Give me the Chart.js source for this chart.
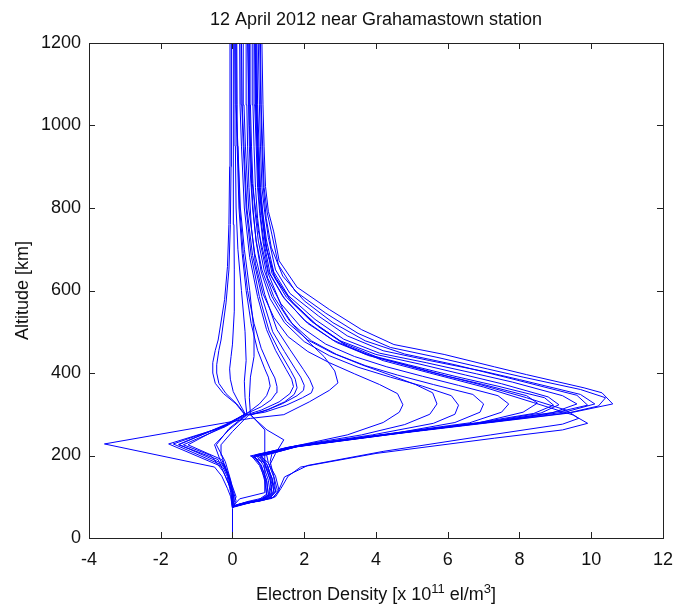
<!DOCTYPE html>
<html>
<head>
<meta charset="utf-8">
<script src="https://cdn.jsdelivr.net/npm/chart.js@4/dist/chart.umd.min.js"></script>
<style>
  body { margin: 0; background: #fff; }
  #wrap { width: 684px; height: 608px; }
</style>
</head>
<body>
<div id="wrap"><canvas id="profileChart" width="684" height="608"></canvas></div>
<script>
// Electron density profiles, each point is [density (x1e11 el/m3), altitude (km)]

// daytime profiles, big F2 peak
const dayProfiles = [
  [[0,75],[0.4,84],[1.0,95],[1.2,112],[1.1,145],[0.9,180],[0.8,198],[1.8,222],[4.5,253],[7.3,282],[9.5,305],[10.6,325],[10.3,352],[9.8,364],[8.2,396],[7.3,415],[5.9,445],[4.5,469],[3.6,505],[2.7,554],[1.8,608],[1.3,672],[1.15,742],[1.0,792],[0.92,852],[0.88,950],[0.85,1050],[0.82,1200]],
  [[0,78],[0.3,85],[0.9,93],[1.1,110],[1.05,140],[0.9,178],[0.75,200],[1.7,220],[4.4,251],[7.2,280],[9.3,302],[10.2,320],[10.4,340],[9.7,360],[8.1,390],[7.1,410],[5.7,438],[4.4,462],[3.5,496],[2.6,545],[1.75,598],[1.28,662],[1.1,735],[0.97,788],[0.88,850],[0.84,950],[0.8,1050],[0.78,1200]],
  [[0,76],[0.5,86],[1.1,96],[1.3,115],[1.2,150],[1.0,182],[0.95,202],[1.9,224],[4.6,254],[7.4,283],[9.3,306],[10.1,325],[9.7,348],[8.0,384],[7.0,404],[5.5,430],[4.2,454],[3.2,490],[2.4,538],[1.6,593],[1.2,650],[1.0,728],[0.9,788],[0.82,850],[0.78,950],[0.75,1050],[0.72,1200]],
  [[0,75],[0.2,82],[0.8,90],[1.0,105],[0.95,140],[0.8,175],[0.6,196],[1.7,221],[4.4,252],[7.1,281],[8.9,303],[9.6,325],[9.2,345],[7.8,378],[6.8,398],[5.4,425],[4.1,448],[3.1,482],[2.3,530],[1.55,588],[1.15,645],[0.95,720],[0.85,785],[0.78,850],[0.74,950],[0.7,1050],[0.68,1200]],
  [[0,74],[0.6,88],[1.2,100],[1.35,120],[1.55,150],[1.9,172],[4.0,205],[7.3,242],[9.2,262],[9.9,278],[9.5,298],[8.4,328],[7.0,366],[5.5,400],[4.2,430],[3.2,465],[2.4,512],[1.7,568],[1.2,628],[0.95,700],[0.85,778],[0.76,850],[0.71,950],[0.68,1050],[0.66,1200]],
  [[0,76],[0.5,87],[1.15,98],[1.3,118],[1.45,148],[2.1,176],[4.2,210],[7.2,250],[9.2,276],[9.65,290],[9.3,310],[8.2,340],[6.9,372],[5.4,405],[4.1,436],[3.1,472],[2.3,520],[1.6,578],[1.15,638],[0.92,710],[0.82,782],[0.74,850],[0.69,950],[0.66,1050],[0.63,1200]],
  [[0,77],[0.3,84],[0.85,92],[1.05,108],[1.0,140],[0.85,178],[0.65,202],[1.6,220],[4.3,251],[7.0,280],[8.6,303],[9.1,323],[8.8,342],[7.5,374],[6.5,395],[5.2,422],[4.0,445],[3.0,478],[2.2,525],[1.5,584],[1.1,642],[0.92,718],[0.82,784],[0.75,850],[0.71,950],[0.67,1050],[0.65,1200]],
  [[0,75],[0.4,85],[0.95,94],[1.15,112],[1.1,145],[0.95,180],[0.5,199],[1.75,221],[4.5,252],[6.9,280],[8.1,305],[8.5,327],[8.2,345],[7.0,372],[6.0,392],[4.9,418],[3.8,442],[2.9,474],[2.1,520],[1.45,580],[1.05,640],[0.88,715],[0.78,782],[0.72,850],[0.68,950],[0.64,1050],[0.62,1200]],
  [[0,76],[0.35,86],[1.05,97],[1.25,116],[1.15,150],[1.05,185],[1.1,205],[2.0,226],[4.7,256],[7.5,285],[9.2,308],[9.9,322],[9.6,346],[8.6,368],[7.6,390],[6.2,420],[4.8,446],[3.7,478],[2.8,522],[2.0,575],[1.4,635],[1.08,705],[0.94,775],[0.86,850],[0.82,950],[0.79,1050],[0.76,1200]],
  [[0,75],[0.25,83],[0.7,91],[0.95,106],[0.92,142],[0.75,176],[0.55,197],[1.5,219],[4.2,250],[6.8,279],[8.4,302],[8.95,322],[8.7,340],[7.4,368],[6.2,392],[4.9,420],[3.7,446],[2.8,480],[2.0,528],[1.4,586],[1.0,646],[0.85,718],[0.76,786],[0.7,850],[0.66,950],[0.62,1050],[0.6,1200]]
];

// afternoon profiles, medium peak
const mediumProfiles = [
  [[0,76],[0.3,83],[0.8,91],[1.0,106],[0.95,140],[0.8,177],[0.6,200],[1.6,221],[4.2,251],[6.6,279],[7.5,305],[7.7,325],[7.4,345],[6.3,370],[5.3,392],[4.3,415],[3.4,440],[2.6,470],[1.9,512],[1.35,568],[0.98,630],[0.8,705],[0.7,775],[0.64,850],[0.6,950],[0.57,1050],[0.55,1200]],
  [[0,75],[0.45,86],[1.0,96],[1.2,114],[1.15,148],[1.0,182],[0.75,201],[1.8,222],[4.4,252],[6.2,280],[6.9,305],[7.0,325],[6.7,348],[5.6,372],[4.6,395],[3.7,418],[2.9,445],[2.2,478],[1.6,525],[1.15,585],[0.88,650],[0.72,720],[0.63,790],[0.57,860],[0.53,950],[0.5,1050],[0.49,1200]],
  [[0,77],[0.35,85],[0.9,93],[1.1,110],[1.05,142],[0.9,180],[0.7,200],[1.8,224],[3.6,250],[4.8,275],[5.5,300],[5.7,325],[5.58,352],[5.1,372],[4.4,395],[3.6,420],[2.8,448],[2.1,480],[1.5,525],[1.1,585],[0.82,650],[0.66,720],[0.56,800],[0.5,880],[0.47,950],[0.45,1050],[0.44,1200]],
  [[0,76],[0.25,83],[0.75,90],[0.95,104],[0.9,138],[0.78,176],[0.6,199],[1.7,222],[3.2,250],[4.2,280],[4.65,305],[4.75,323],[4.6,350],[4.1,372],[3.4,398],[2.7,425],[2.1,452],[1.55,488],[1.15,535],[0.85,592],[0.64,665],[0.53,750],[0.46,850],[0.42,950],[0.4,1050],[0.38,1200]],
  [[0,75],[0.4,86],[0.95,95],[1.15,112],[1.1,145],[0.95,180],[0.8,201],[1.7,222],[3.9,250],[5.6,278],[6.2,300],[6.3,322],[6.1,345],[5.3,368],[4.4,390],[3.5,414],[2.7,442],[2.0,476],[1.45,522],[1.05,580],[0.8,645],[0.66,718],[0.58,790],[0.53,860],[0.5,950],[0.48,1050],[0.47,1200]]
];

// evening profiles, bulge to the right around 360 km
const eveningProfiles = [
  [[0,0],[0,72],[-0.05,100],[-0.14,120],[-0.3,150],[-0.5,172],[-3.57,228],[-0.22,279],[0.5,290],[1.43,299],[2.14,330],[2.7,358],[2.94,376],[2.85,405],[2.55,440],[2.14,474],[1.7,515],[1.4,555],[1.0,640],[0.72,745],[0.55,860],[0.47,1000],[0.42,1200]],
  [[0,74],[0.1,90],[0,120],[-0.15,160],[-0.35,190],[-0.5,226],[-0.1,262],[0.4,298],[0.9,305],[1.5,322],[1.95,340],[2.2,352],[2.25,364],[2.15,385],[1.98,408],[1.6,457],[1.24,505],[0.9,590],[0.62,690],[0.45,800],[0.36,950],[0.32,1050],[0.3,1200]],
  [[0,76],[0.05,95],[-0.05,130],[-0.2,170],[-0.3,200],[-0.32,226],[0,258],[0.45,298],[0.9,308],[1.4,326],[1.8,345],[1.98,358],[2.0,370],[1.9,390],[1.75,410],[1.45,452],[1.12,500],[0.82,585],[0.56,685],[0.4,800],[0.32,950],[0.27,1050],[0.25,1200]],
  [[0,75],[0,110],[-0.25,160],[-0.6,200],[-1.37,226],[-0.2,270],[0.4,299],[0.8,310],[1.3,330],[1.6,350],[1.7,367],[1.65,385],[1.5,408],[1.2,455],[0.95,505],[0.7,585],[0.48,680],[0.33,800],[0.25,950],[0.21,1050],[0.2,1200]],
  [[0,77],[0.02,105],[-0.2,150],[-0.4,190],[-1.5,226],[-0.2,275],[0.35,300],[0.8,318],[1.08,335],[1.22,352],[1.24,367],[1.18,388],[1.05,410],[0.8,460],[0.6,520],[0.42,600],[0.3,690],[0.2,800],[0.15,950],[0.13,1050],[0.12,1200]],
  [[0,76],[0.1,100],[-0.1,150],[-0.3,190],[-1.24,226],[-0.15,276],[0.4,302],[0.75,325],[0.95,345],[1.05,368],[1.0,390],[0.9,410],[0.7,455],[0.52,520],[0.38,600],[0.27,690],[0.18,800],[0.13,950],[0.1,1050],[0.1,1200]],
  [[0,75],[0.4,88],[1.0,100],[1.1,130],[1.0,170],[1.2,205],[1.43,238],[0.96,262],[0.5,298],[1.0,312],[1.45,330],[1.72,348],[1.8,364],[1.75,385],[1.62,406],[1.3,454],[1.02,502],[0.75,585],[0.52,685],[0.38,800],[0.3,950],[0.26,1050],[0.24,1200]]
];

// night profiles, bulge to the left around 420 km
const nightProfiles = [
  [[0,73],[-0.05,110],[-0.15,150],[-0.27,172],[-1.78,228],[-0.22,270],[0.33,300],[0.1,325],[-0.25,350],[-0.48,375],[-0.55,400],[-0.55,425],[-0.48,455],[-0.4,480],[-0.22,578],[-0.14,658],[-0.1,760],[-0.08,900],[-0.07,1050],[-0.07,1200]],
  [[0,74],[-0.04,112],[-0.12,150],[-0.25,175],[-1.65,228],[-0.2,272],[0.35,300],[0.12,325],[-0.18,350],[-0.38,375],[-0.44,400],[-0.44,420],[-0.38,455],[-0.32,480],[-0.18,570],[-0.1,650],[-0.06,760],[-0.04,900],[-0.03,1050],[-0.03,1200]],
  [[0,75],[-0.02,115],[-0.1,150],[-0.22,178],[-1.5,227],[-0.18,274],[0.36,300],[0.2,325],[0.02,355],[-0.06,385],[-0.08,410],[-0.04,440],[0,470],[0.05,550],[0.05,650],[0.04,760],[0.03,900],[0.02,1050],[0.02,1200]],
  [[0,75],[0.03,100],[-0.05,140],[-0.2,185],[-0.45,226],[-0.1,265],[0.4,300],[0.35,340],[0.33,380],[0.38,430],[0.35,500],[0.25,600],[0.15,700],[0.1,800],[0.08,950],[0.07,1050],[0.06,1200]],
  [[0,76],[0.2,95],[0.9,110],[0.9,206],[0.9,262],[0.5,300],[0.47,340],[0.5,390],[0.6,440],[0.6,500],[0.48,600],[0.33,700],[0.22,800],[0.15,950],[0.1,1050],[0.09,1200]]
];

const xTicks = [-4, -2, 0, 2, 4, 6, 8, 10, 12];
const yTicks = [0, 200, 400, 600, 800, 1000, 1200];

const titleText = '12 April 2012 near Grahamastown station';
const yTitle = 'Altitude [km]';

const FONT = '"Liberation Sans", Arial, sans-serif';
const allProfiles = [...dayProfiles, ...mediumProfiles, ...eveningProfiles, ...nightProfiles];

// frame with inward ticks on all four sides, plus titles (MATLAB look)
const matlabFrame = {
  id: 'matlabFrame',
  afterDraw(chart) {
    const { ctx, chartArea: a, scales } = chart;
    ctx.save();
    ctx.strokeStyle = '#222';
    ctx.lineWidth = 1;
    ctx.strokeRect(Math.round(a.left) + 0.5, Math.round(a.top) + 0.5,
      Math.round(a.right - a.left), Math.round(a.bottom - a.top));
    const tl = 6;
    ctx.beginPath();
    xTicks.forEach(v => {
      const px = Math.round(scales.x.getPixelForValue(v)) + 0.5;
      ctx.moveTo(px, a.bottom); ctx.lineTo(px, a.bottom - tl);
      ctx.moveTo(px, a.top); ctx.lineTo(px, a.top + tl);
    });
    yTicks.forEach(v => {
      const py = Math.round(scales.y.getPixelForValue(v)) + 0.5;
      ctx.moveTo(a.left, py); ctx.lineTo(a.left + tl, py);
      ctx.moveTo(a.right, py); ctx.lineTo(a.right - tl, py);
    });
    ctx.stroke();

    ctx.fillStyle = '#111';
    const cx = (a.left + a.right) / 2;
    // main title
    ctx.font = '18px ' + FONT;
    ctx.textAlign = 'center';
    ctx.textBaseline = 'middle';
    ctx.fillText(titleText, cx, 20);

    // y title
    ctx.save();
    ctx.translate(23, (a.top + a.bottom) / 2);
    ctx.rotate(-Math.PI / 2);
    ctx.fillText(yTitle, 0, 0);
    ctx.restore();

    // x title with superscripts
    const parts = [
      ['Electron Density [x 10', false],
      ['11', true],
      [' el/m', false],
      ['3', true],
      [']', false]
    ];
    const big = '18px ' + FONT, small = '13px ' + FONT;
    let w = 0;
    parts.forEach(([t, sup]) => { ctx.font = sup ? small : big; w += ctx.measureText(t).width; });
    let x = cx - w / 2;
    const y = 600;
    ctx.textAlign = 'left';
    ctx.textBaseline = 'alphabetic';
    parts.forEach(([t, sup]) => {
      ctx.font = sup ? small : big;
      ctx.fillText(t, x, sup ? y - 7 : y);
      x += ctx.measureText(t).width;
    });
    ctx.restore();
  }
};

const ctx = document.getElementById('profileChart').getContext('2d');
const chart = new Chart(ctx, {
  type: 'scatter',
  data: {
    datasets: allProfiles.map(p => ({
      data: p.map(([x, y]) => ({ x, y })),
      showLine: true,
      borderColor: '#0000ff',
      borderWidth: 1,
      pointRadius: 0,
      pointHoverRadius: 0,
      fill: false,
      tension: 0
    }))
  },
  options: {
    responsive: false,
    animation: false,
    devicePixelRatio: 1,
    layout: { padding: { top: 43, right: 9, left: 0, bottom: 0 } },
    plugins: {
      legend: { display: false },
      tooltip: { enabled: false },
      title: { display: false }
    },
    scales: {
      x: {
        type: 'linear',
        min: -4,
        max: 12,
        afterFit: s => { s.height = 70; },
        afterBuildTicks: s => { s.ticks = xTicks.map(v => ({ value: v })); },
        grid: { display: false, drawTicks: false },
        border: { display: false },
        ticks: { color: '#111', font: { size: 18, family: FONT }, padding: 11, maxRotation: 0,
                 callback: v => String(v) }
      },
      y: {
        type: 'linear',
        min: 0,
        max: 1200,
        afterFit: s => { s.width = 89; },
        afterBuildTicks: s => { s.ticks = yTicks.map(v => ({ value: v })); },
        grid: { display: false, drawTicks: false },
        border: { display: false },
        ticks: { color: '#111', font: { size: 18, family: FONT }, padding: 8,
                 callback: v => String(v) }
      }
    }
  },
  plugins: [matlabFrame]
});
</script>
</body>
</html>
